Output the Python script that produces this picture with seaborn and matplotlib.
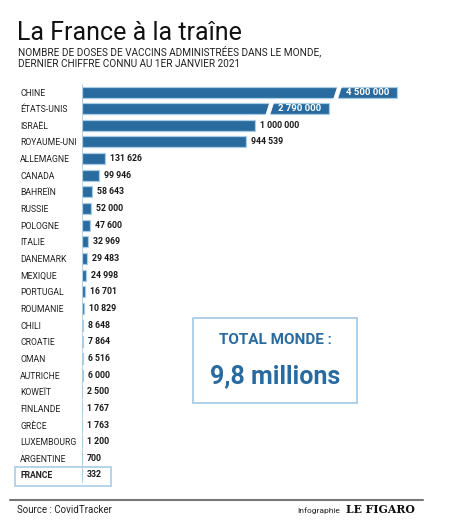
import numpy as np
import matplotlib
matplotlib.use("Agg")
import matplotlib.pyplot as plt
from matplotlib.patches import Rectangle, Polygon
from matplotlib.lines import Line2D
import seaborn as sns

# donnees
pays = ["CHINE", "ÉTATS-UNIS", "ISRAËL", "ROYAUME-UNI", "ALLEMAGNE", "CANADA",
        "BAHREÏN", "RUSSIE", "POLOGNE", "ITALIE", "DANEMARK", "MEXIQUE",
        "PORTUGAL", "ROUMANIE", "CHILI", "CROATIE", "OMAN", "AUTRICHE",
        "KOWEÏT", "FINLANDE", "GRÈCE", "LUXEMBOURG", "ARGENTINE", "FRANCE"]
doses = [4500000, 2790000, 1000000, 944539, 131626, 99946, 58643, 52000,
         47600, 32969, 29483, 24998, 16701, 10829, 8648, 7864, 6516, 6000,
         2500, 1767, 1763, 1200, 700, 332]
total = "9,8 millions"

bleu = "#2a6b9f"
bleu_clair = "#a9cde6"

sns.set_style("white")
plt.rcParams["font.family"] = ["Roboto", "DejaVu Sans"]

W, H = 460, 523
fig = plt.figure(figsize=(W / 100, H / 100), dpi=100)
fig.patch.set_facecolor("white")

def fx(px):
    return px / W

def fy(py):
    return 1 - py / H

ax = fig.add_axes([fx(82), fy(483.3), 335 / W, (483.3 - 83.7) / H])

sns.barplot(x=doses, y=pays, orient="h", color=bleu, saturation=1,
            width=0.66, edgecolor=bleu_clair, linewidth=0.9, ax=ax)

# echelle coupee au-dela de ~1 million (barres brisees)
B, k = 1.02e6, 0.2299

def fwd(x):
    x = np.asarray(x, dtype=float)
    return np.where(x <= B, x, B + (x - B) * k)

def inv(x):
    x = np.asarray(x, dtype=float)
    return np.where(x <= B, x, B + (x - B) / k)

ax.set_xscale("function", functions=(fwd, inv))
ax.set_xlim(0, 5e6)
ax.set_ylim(len(pays) - 0.5, -0.5)
ax.axvline(0, color=bleu_clair, lw=1.2, zorder=0)

for s in ax.spines.values():
    s.set_visible(False)
ax.set_xticks([])
ax.set_xlabel("")
ax.tick_params(axis="y", length=0, pad=44.6, labelsize=6.2, colors="#222222")
for lab in ax.get_yticklabels():
    lab.set_ha("left")
    if lab.get_text() == "FRANCE":
        lab.set_fontweight("bold")

def fmt(v):
    return f"{v:,}".replace(",", " ")

labels = [fmt(v) if v <= B else "" for v in doses]
ax.bar_label(ax.containers[0], labels=labels, padding=3.6, fontsize=6.3,
             fontweight="bold", color="#1a1a1a")

# coupures obliques et etiquettes dans les barres brisees
sc = fig.dpi / 100
to_fig = fig.transFigure.inverted()
for i, v in enumerate(doses):
    if v <= B:
        continue
    xe, yt = ax.transData.transform((v, i - 0.33))
    _, yb = ax.transData.transform((v, i + 0.33))
    pts = [(xe - 59 * sc, yt + 1.5 * sc), (xe - 55 * sc, yt + 1.5 * sc),
           (xe - 59.5 * sc, yb - 1.5 * sc), (xe - 63.5 * sc, yb - 1.5 * sc)]
    pts = to_fig.transform(pts)
    ax.add_patch(Polygon(pts, closed=True, facecolor="white", edgecolor="white",
                         lw=0.5, transform=fig.transFigure, clip_on=False, zorder=5))
    ax.annotate(fmt(v), xy=(v, i), xytext=(-29 * sc, 0), textcoords="offset pixels",
                ha="center", va="center", color="white", fontsize=6.8,
                fontweight="bold", zorder=6)

# titre
fig.text(fx(17), fy(40), "La France à la traîne", fontsize=18,
         va="baseline", ha="left", color="#111111")
fig.text(fx(18), fy(55.5), "NOMBRE DE DOSES DE VACCINS ADMINISTRÉES DANS LE MONDE,",
         fontsize=7.2, va="baseline", ha="left", color="#222222")
fig.text(fx(18), fy(67), "DERNIER CHIFFRE CONNU AU 1ER JANVIER 2021",
         fontsize=7.2, va="baseline", ha="left", color="#222222")

# encadre total
fig.add_artist(Rectangle((fx(193), fy(403)), 164 / W, 85 / H, transform=fig.transFigure,
                         fill=False, edgecolor=bleu_clair, lw=1.3))
fig.text(fx(275), fy(339.5), "TOTAL MONDE :", ha="center", va="center",
         fontsize=11, fontweight="bold", color=bleu)
fig.text(fx(275), fy(376), total, ha="center", va="center",
         fontsize=18, fontweight="bold", color=bleu)

# encadre France
fig.add_artist(Rectangle((fx(15), fy(485.5)), 96 / W, 19 / H, transform=fig.transFigure,
                         fill=False, edgecolor=bleu_clair, lw=1.2))

# pied
fig.add_artist(Line2D([fx(10), fx(423)], [fy(500), fy(500)], color="#777777", lw=1.5,
                      transform=fig.transFigure))
fig.text(fx(17), fy(513), "Source : CovidTracker", fontsize=7, va="baseline",
         color="#222222")
fig.text(fx(297), fy(513), "Infographie", fontsize=6, va="baseline", color="#222222")
fig.text(fx(346), fy(513), "LE FIGARO", fontsize=7.8, va="baseline", color="#111111",
         family="DejaVu Serif", fontweight="bold")

fig.savefig("out.png", dpi=100, facecolor="white")
